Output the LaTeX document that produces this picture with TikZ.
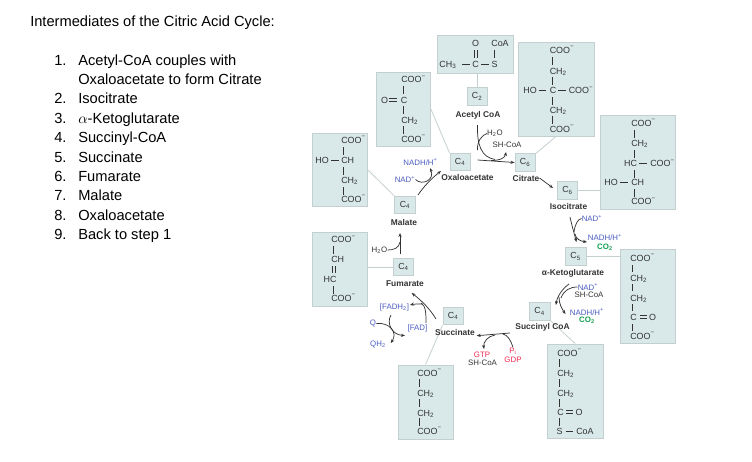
\documentclass[tikz,border=0pt]{standalone}
\usepackage{fontspec}
\setmainfont{Liberation Sans}
\usetikzlibrary{arrows.meta}
\definecolor{boxfill}{HTML}{D9E9EA}
\definecolor{boxline}{HTML}{C4CFCF}
\definecolor{ink}{HTML}{333333}
\definecolor{cblue}{HTML}{4A5BC0}
\definecolor{cgreen}{HTML}{0FA04F}
\definecolor{cred}{HTML}{F0264F}
\tikzset{
  molbox/.style={draw=boxline,fill=boxfill,line width=0.6pt,inner sep=0pt},
  cbox/.style={draw=boxline,fill=boxfill,line width=0.6pt,inner sep=0pt,minimum width=15.4pt,minimum height=13pt,font=\fontsize{6.6}{7}\selectfont,text=ink},
  dims/.style 2 args={minimum width=#1*0.75pt,minimum height=#2*0.75pt},
  leader/.style={draw=boxline,line width=0.6pt},
  bond/.style={draw=ink,line width=0.5pt},
  atom/.style={font=\fontsize{6.7}{7}\selectfont,text=ink,inner sep=0pt,anchor=base},
  atoml/.style={atom,anchor=base west},
  clabel/.style={font=\fontsize{6.3}{7}\selectfont\bfseries,text=ink,inner sep=0pt},
  cof/.style={font=\fontsize{5.9}{7}\selectfont,inner sep=0pt},
  cofb/.style={cof,font=\fontsize{5.9}{7}\selectfont\bfseries},
  arr/.style={draw=ink,line width=0.55pt,-{Stealth[length=3pt,width=2.4pt]}},
  hook/.style={draw=ink,line width=0.55pt},
  listtext/.style={font=\fontsize{11}{12}\selectfont,text=black,inner sep=0pt,anchor=base west},
}
\newcounter{an}
\newcommand{\atm}[3]{\stepcounter{an}\node[atom,name=atom\arabic{an}] at (#1,#2+3) {#3};}
\newcommand{\atl}[3]{\stepcounter{an}\node[atoml,name=atom\arabic{an}] at (#1,#2+3) {#3};}
\newcommand{\vb}[3]{\draw[bond] (#1,#2) -- (#1,#3);}
\newcommand{\hb}[3]{\draw[bond] (#1,#3) -- (#2,#3);}
\newcommand{\dvb}[3]{\draw[bond] (#1-1.6,#2) -- (#1-1.6,#3) (#1+1.6,#2) -- (#1+1.6,#3);}
\newcommand{\dhb}[3]{\draw[bond] (#1,#3-1.4) -- (#2,#3-1.4) (#1,#3+1.4) -- (#2,#3+1.4);}
\newcommand{\coo}{COO\textsuperscript{−}}
\newcommand{\cht}{CH\textsubscript{2}}
\begin{document}
\begin{tikzpicture}[x=0.75pt,y=-0.75pt]
\useasboundingbox (0,0) rectangle (752,461);
% list
\node[listtext] (title) at (30,26) {Intermediates of the Citric Acid Cycle:};
\node[listtext] (n1) at (54,65) {1.};
\node[listtext] (t1) at (78,65) {Acetyl-CoA couples with};
\node[listtext] (t1b) at (78,84) {Oxaloacetate to form Citrate};
\node[listtext] (n2) at (54,103) {2.};
\node[listtext] (t2) at (78,103) {Isocitrate};
\node[listtext] (n3) at (54,123) {3.};
\node[listtext] (t3) at (78,123) {$\alpha$-Ketoglutarate};
\node[listtext] (n4) at (54,142) {4.};
\node[listtext] (t4) at (78,142) {Succinyl-CoA};
\node[listtext] (n5) at (54,162) {5.};
\node[listtext] (t5) at (78,162) {Succinate};
\node[listtext] (n6) at (54,181) {6.};
\node[listtext] (t6) at (78,181) {Fumarate};
\node[listtext] (n7) at (54,200) {7.};
\node[listtext] (t7) at (78,200) {Malate};
\node[listtext] (n8) at (54,220) {8.};
\node[listtext] (t8) at (78,220) {Oxaloacetate};
\node[listtext] (n9) at (54,239) {9.};
\node[listtext] (t9) at (78,239) {Back to step 1};
% molecule boxes
\node[molbox,dims={76}{38}] (mAcetyl) at (475,54) {};
\node[molbox,dims={54.5}{74}] (mOxalo) at (403.2,109) {};
\node[molbox,dims={55}{73}] (mMalate) at (339.5,169.5) {};
\node[molbox,dims={76}{94}] (mCitrate) at (556,89) {};
\node[molbox,dims={75.5}{94}] (mIso) at (637.7,162) {};
\node[molbox,dims={55.5}{94}] (mKeto) at (647.7,296) {};
\node[molbox,dims={55.5}{94}] (mSuccinyl) at (575.2,391) {};
\node[molbox,dims={55}{74}] (mSuccinate) at (425.5,402) {};
\node[molbox,dims={55}{74}] (mFumarate) at (339.5,269) {};
% carbon boxes
\node[cbox] (cAcetyl) at (477.2,96.5) {C\textsubscript{2}};
\node[cbox] (cOxalo) at (460.2,162) {C\textsubscript{4}};
\node[cbox] (cCitrate) at (525.2,162.5) {C\textsubscript{6}};
\node[cbox] (cIso) at (567.5,190.5) {C\textsubscript{6}};
\node[cbox] (cKeto) at (575.7,256.5) {C\textsubscript{5}};
\node[cbox] (cSuccinyl) at (539.7,311.5) {C\textsubscript{4}};
\node[cbox] (cSuccinate) at (453.2,316.2) {C\textsubscript{4}};
\node[cbox] (cFumarate) at (403.5,267) {C\textsubscript{4}};
\node[cbox] (cMalate) at (405,205) {C\textsubscript{4}};
% leaders
\draw[leader] (cAcetyl.north) -- (cAcetyl.north |- mAcetyl.south);
\draw[leader] (mOxalo.east) -- (cOxalo.north west);
\draw[leader] (mMalate.east) -- (cMalate.north west);
\draw[leader] (mCitrate.south) -- (cCitrate.north east);
\draw[leader] (cIso.east) -- (cIso.east -| mIso.west);
\draw[leader] (cKeto.east) -- (cKeto.east -| mKeto.west);
\draw[leader] (cSuccinyl.south east) -- (mSuccinyl.north);
\draw[leader] (cSuccinate.south west) -- (mSuccinate.north);
\draw[leader] (cFumarate.west) -- (cFumarate.west -| mFumarate.east);
% acetyl-CoA
\atm{475.7}{43.7}{O}\atm{500}{43.7}{CoA}
\atm{448}{64}{CH\textsubscript{3}}\atm{475.5}{64}{C}\atm{494.5}{64}{S}
\dvb{475.5}{50}{58}\vb{494.5}{50}{58}\hb{462}{470}{64}\hb{481}{489}{64}
% oxaloacetate
\atl{401}{79.5}{\coo}\atm{384.5}{100}{O}\atl{400.5}{100}{C}\atl{401}{120}{\cht}\atl{401}{139}{\coo}
\vb{403.7}{86}{94}\dhb{388.5}{397}{100}\vb{403.7}{106}{114}\vb{403.7}{126}{134}
% malate
\atl{341}{140}{\coo}\atm{322}{160}{HO}\atl{341}{160}{CH}\atl{341}{180}{\cht}\atl{341}{199}{\coo}
\vb{343.7}{147}{155}\hb{331}{339}{160}\vb{343.7}{167}{175}\vb{343.7}{187}{195}
% citrate
\atl{549.5}{50}{\coo}\atl{549.5}{71}{\cht}\atm{530}{90.5}{HO}\atl{549.5}{90.5}{C}\atl{568.5}{90.5}{\coo}\atl{549.5}{110}{\cht}\atl{549.5}{129}{\coo}
\vb{552}{57}{65}\vb{552}{77}{85}\hb{539}{546}{90.5}\hb{558}{566}{90.5}\vb{552}{97}{105}\vb{552}{115.5}{123.5}
% isocitrate
\atl{631}{123}{\coo}\atl{631}{143.5}{\cht}\atm{630.5}{163.5}{HC}\atl{650}{163.5}{\coo}\atm{611}{182.5}{HO}\atl{631}{182.5}{CH}\atl{631}{201.5}{\coo}
\vb{634}{130}{138}\vb{634}{150}{158}\hb{639}{647}{163.5}\vb{634}{170}{178}\hb{620}{628}{182.5}\vb{634}{189}{197}
% alpha-ketoglutarate
\atl{630}{258}{\coo}\atl{630}{278}{\cht}\atl{630}{298}{\cht}\atl{630}{317}{C}\atm{652.5}{317}{O}\atl{630}{336}{\coo}
\vb{632.5}{265}{272}\vb{632.5}{284}{291}\vb{632.5}{304}{311}\dhb{640}{647}{317}\vb{632.5}{323.5}{331}
% succinyl-CoA
\atl{557}{353}{\coo}\atl{557}{373}{\cht}\atl{557}{393}{\cht}\atl{557}{412}{C}\atm{579}{412}{O}\atm{559.5}{431.5}{S}\atl{576}{431.5}{CoA}
\vb{559.5}{359}{367}\vb{559.5}{379}{387}\vb{559.5}{399}{407}\dhb{566}{573}{412}\vb{559.5}{418}{426}\hb{565.5}{572.5}{431.5}
% succinate
\atl{417}{373}{\coo}\atl{417}{393}{\cht}\atl{417}{413}{\cht}\atl{417}{431}{\coo}
\vb{419.5}{379}{387}\vb{419.5}{399}{407}\vb{419.5}{418}{426}
% fumarate
\atl{331}{239.5}{\coo}\atl{331}{259.5}{CH}\atm{330}{279}{HC}\atl{331}{298}{\coo}
\vb{333.5}{246}{254}\dvb{333.5}{266}{273}\vb{333.5}{286}{294}
% compound labels
\node[clabel] (lAcetyl) at (478,115) {Acetyl CoA};
\node[clabel] (lOxalo) at (467.5,177.5) {Oxaloacetate};
\node[clabel] (lCitrate) at (526,178) {Citrate};
\node[clabel] (lIso) at (568.5,206.5) {Isocitrate};
\node[clabel] (lKeto) at (573,273.5) {α-Ketoglutarate};
\node[clabel] (lSuccinyl) at (542.5,327.5) {Succinyl CoA};
\node[clabel] (lSuccinate) at (455,332) {Succinate};
\node[clabel] (lFumarate) at (405,284) {Fumarate};
\node[clabel] (lMalate) at (404,222) {Malate};
% cofactors
\node[cof,text=ink] (h2oA) at (495,133.5) {H\textsubscript{2}O};
\node[cof,text=ink] (shA) at (507,145) {SH-CoA};
\node[cof,text=cblue] (nadhM) at (420.5,162) {NADH/H\textsuperscript{+}};
\node[cof,text=cblue] (nadM) at (405,179.5) {NAD\textsuperscript{+}};
\node[cof,text=cblue] (nadI) at (592,218.5) {NAD\textsuperscript{+}};
\node[cof,text=cblue] (nadhI) at (605,237.5) {NADH/H\textsuperscript{+}};
\node[cofb,text=cgreen] (co2I) at (605,247.5) {CO\textsubscript{2}};
\node[cof,text=cblue] (nadK) at (588,287) {NAD\textsuperscript{+}};
\node[cof,text=ink] (shK) at (589,295) {SH-CoA};
\node[cof,text=cblue] (nadhK) at (587,312) {NADH/H\textsuperscript{+}};
\node[cofb,text=cgreen] (co2K) at (587,320.5) {CO\textsubscript{2}};
\node[cof,text=cred] (pi) at (513,351) {P\textsubscript{i}};
\node[cof,text=cred] (gdp) at (513,360) {GDP};
\node[cof,text=cred] (gtp) at (482,355) {GTP};
\node[cof,text=ink] (shS) at (482.5,362.5) {SH-CoA};
\node[cof,text=cblue] (fadh) at (394.5,307.5) {[FADH\textsubscript{2}]};
\node[cof,text=cblue] (q) at (373,323.5) {Q};
\node[cof,text=cblue] (qh) at (378,344.5) {QH\textsubscript{2}};
\node[cof,text=cblue] (fad) at (417.5,328.5) {[FAD]};
\node[cof,text=ink] (h2oF) at (379.5,250) {H\textsubscript{2}O};
% reaction arrows
\coordinate (a1) at (477.5,125);
\draw[hook] (a1) .. controls (477,145) and (481,157) .. (495,159.5);
\draw[arr] (477.7,160) -- (cCitrate.west);
\draw[hook] (h2oA.west) .. controls (482,135) and (477,141) .. (477.5,150);
\draw[arr] (491,160.5) .. controls (500,160.5) and (505,158) .. (506,152);
\draw[arr] (418,195) .. controls (424,186) and (432,178) .. (441,171);
\draw[arr] (nadM.east) .. controls (422,186) and (435,180) .. (430,168);
\draw[arr] (lCitrate.east) -- (553,188);
\draw[arr] (570,217) .. controls (572,226) and (574,233) .. (576.5,242);
\draw[hook] (nadI.west) .. controls (578,219) and (575,224) .. (574,232);
\draw[arr] (575,234) .. controls (576,239) and (580,241) .. (587,242);
\draw[arr] (569,284) .. controls (562,289) and (557,297) .. (556,305);
\draw[hook] (nadK.west) .. controls (570,287) and (564,290) .. (561,298);
\draw[arr] (559,297) .. controls (559,304) and (562,309) .. (565.5,314);
\draw[arr] (510,333) -- (476.7,335.7);
\draw[hook] (pi.north) .. controls (511,341) and (508,335) .. (503,334);
\draw[arr] (495,335) .. controls (488,336) and (483,342) .. (484,349);
\draw[arr] (436,319) .. controls (430,309) and (422,301) .. (411.7,293);
\draw[hook] (426,323) .. controls (426,314) and (426,306) .. (421,303);
\draw[arr] (423,304) .. controls (419,304) and (414,304) .. (410,305);
\draw[arr] (391,315) .. controls (386,323) and (392,335) .. (405,335.5);
\draw[arr] (q.east) .. controls (390,322) and (398,333) .. (390.7,343);
\draw[arr] (400,254) -- (400,233);
\draw[hook] (h2oF.east) .. controls (394,250) and (399,248) .. (400,242);
\end{tikzpicture}
\end{document}
